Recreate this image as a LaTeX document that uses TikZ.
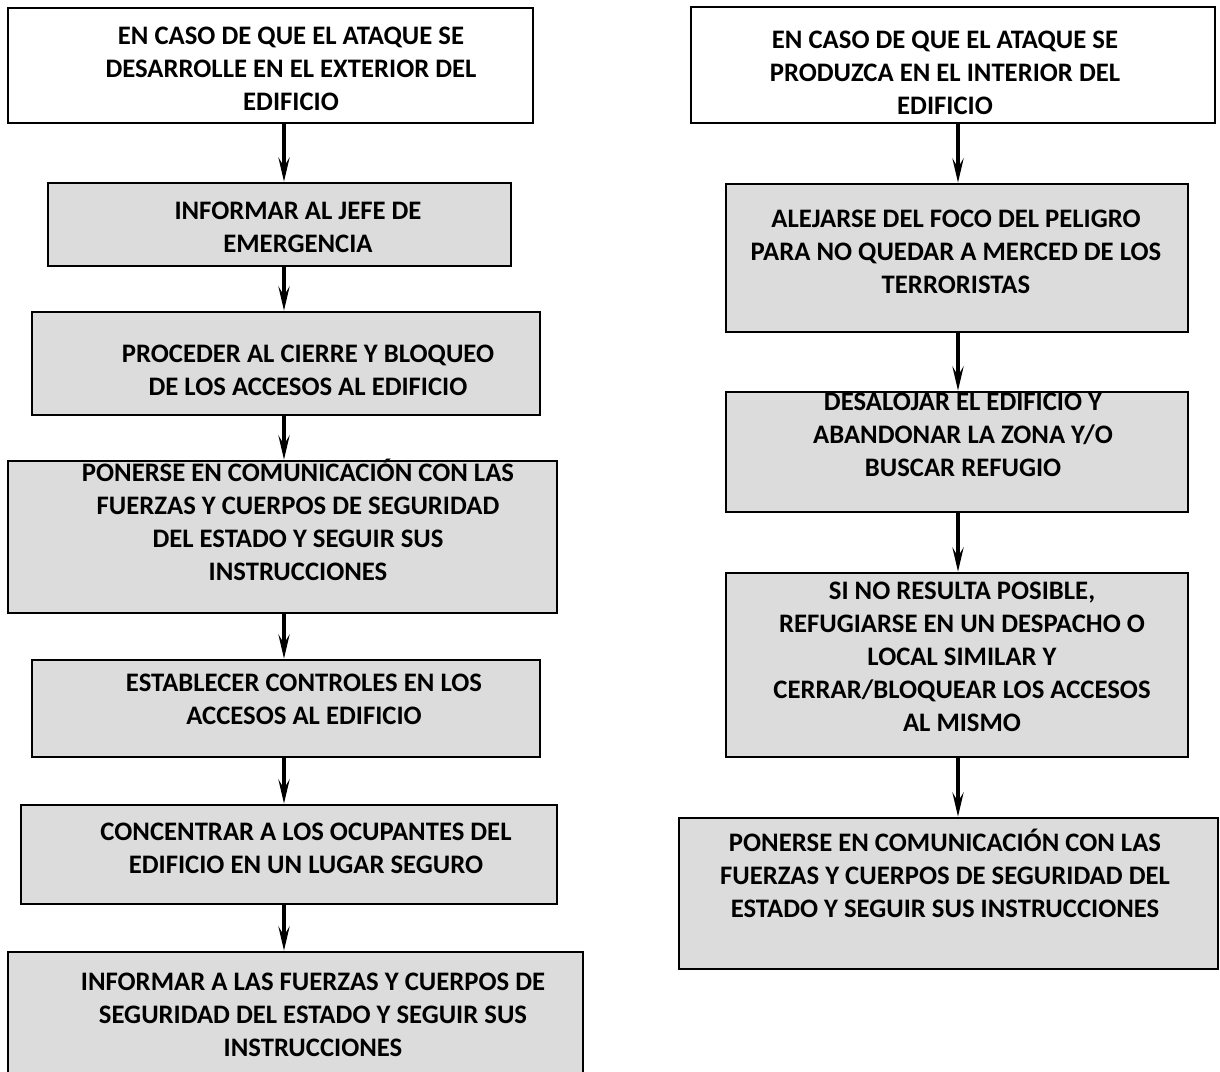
\documentclass[tikz,border=0pt]{standalone}
\usepackage{fontspec}
\setmainfont{Carlito}
\usetikzlibrary{arrows.meta}
\definecolor{boxgray}{RGB}{220, 220, 220}

\begin{document}
\begin{tikzpicture}[x=1pt, y=-1pt,
  box/.style={draw=black, line width=2.6pt, inner sep=0pt, fill=boxgray},
  txt/.style={anchor=north, align=center, inner sep=0pt, font=\fontsize{26.7}{33}\selectfont\bfseries},
  flow/.style={line width=4.5pt, -{Stealth[length=24pt, width=11pt, inset=9pt]}}]
  \useasboundingbox (0, 0) rectangle (1220, 1071);
  \clip (0, 0) rectangle (1220, 1071);

  \coordinate (lx) at (284, 0);
  \coordinate (rx) at (958, 0);

  \node[box, fill=white, minimum width=525pt, minimum height=115pt] (b1) at (270.5, 65.5) {};
  \node[box, minimum width=463pt, minimum height=83pt] (b2) at (279.5, 224.5) {};
  \node[box, minimum width=508pt, minimum height=103pt] (b3) at (286, 363.5) {};
  \node[box, minimum width=549pt, minimum height=152pt] (b4) at (282.5, 537) {};
  \node[box, minimum width=508pt, minimum height=97pt] (b5) at (286, 708.5) {};
  \node[box, minimum width=536pt, minimum height=99pt] (b6) at (289, 854.5) {};
  \node[box, minimum width=575pt, minimum height=138pt] (b7) at (295.5, 1021) {};

  \node[box, fill=white, minimum width=524pt, minimum height=116pt] (r1) at (953, 65) {};
  \node[box, minimum width=462pt, minimum height=148pt] (r2) at (957, 258) {};
  \node[box, minimum width=462pt, minimum height=120pt] (r3) at (957, 452) {};
  \node[box, minimum width=462pt, minimum height=184pt] (r4) at (957, 665) {};
  \node[box, minimum width=539pt, minimum height=151pt] (r5) at (948.5, 893.5) {};

  \node[txt] (tb1) at (291, 21.5) {\strut EN CASO DE QUE EL ATAQUE SE\\DESARROLLE EN EL EXTERIOR DEL\\EDIFICIO};
  \node[txt] (tb2) at (298, 196.5) {\strut INFORMAR AL JEFE DE\\EMERGENCIA};
  \node[txt] (tb3) at (308, 339.5) {\strut PROCEDER AL CIERRE Y BLOQUEO\\DE LOS ACCESOS AL EDIFICIO};
  \node[txt] (tb4) at (298, 458.5) {\strut PONERSE EN COMUNICACIÓN CON LAS\\FUERZAS Y CUERPOS DE SEGURIDAD\\DEL ESTADO Y SEGUIR SUS\\INSTRUCCIONES};
  \node[txt] (tb5) at (304, 668.5) {\strut ESTABLECER CONTROLES EN LOS\\ACCESOS AL EDIFICIO};
  \node[txt] (tb6) at (306, 817.5) {\strut CONCENTRAR A LOS OCUPANTES DEL\\EDIFICIO EN UN LUGAR SEGURO};
  \node[txt] (tb7) at (313, 967.5) {\strut INFORMAR A LAS FUERZAS Y CUERPOS DE\\SEGURIDAD DEL ESTADO Y SEGUIR SUS\\INSTRUCCIONES};

  \node[txt] (tr1) at (945, 25.5) {\strut EN CASO DE QUE EL ATAQUE SE\\PRODUZCA EN EL INTERIOR DEL\\EDIFICIO};
  \node[txt] (tr2) at (956, 204.5) {\strut ALEJARSE DEL FOCO DEL PELIGRO\\PARA NO QUEDAR A MERCED DE LOS\\TERRORISTAS};
  \node[txt] (tr3) at (963, 387.5) {\strut DESALOJAR EL EDIFICIO Y\\ABANDONAR LA ZONA Y/O\\BUSCAR REFUGIO};
  \node[txt] (tr4) at (962, 576.5) {\strut SI NO RESULTA POSIBLE,\\REFUGIARSE EN UN DESPACHO O\\LOCAL SIMILAR Y\\CERRAR/BLOQUEAR LOS ACCESOS\\AL MISMO};
  \node[txt] (tr5) at (945, 828.5) {\strut PONERSE EN COMUNICACIÓN CON LAS\\FUERZAS Y CUERPOS DE SEGURIDAD DEL\\ESTADO Y SEGUIR SUS INSTRUCCIONES};

  \draw[flow] (b1.south -| lx) -- (b2.north -| lx);
  \draw[flow] (b2.south -| lx) -- (b3.north -| lx);
  \draw[flow] (b3.south -| lx) -- (b4.north -| lx);
  \draw[flow] (b4.south -| lx) -- (b5.north -| lx);
  \draw[flow] (b5.south -| lx) -- (b6.north -| lx);
  \draw[flow] (b6.south -| lx) -- (b7.north -| lx);

  \draw[flow] (r1.south -| rx) -- (r2.north -| rx);
  \draw[flow] (r2.south -| rx) -- (r3.north -| rx);
  \draw[flow] (r3.south -| rx) -- (r4.north -| rx);
  \draw[flow] (r4.south -| rx) -- (r5.north -| rx);
\end{tikzpicture}
\end{document}
